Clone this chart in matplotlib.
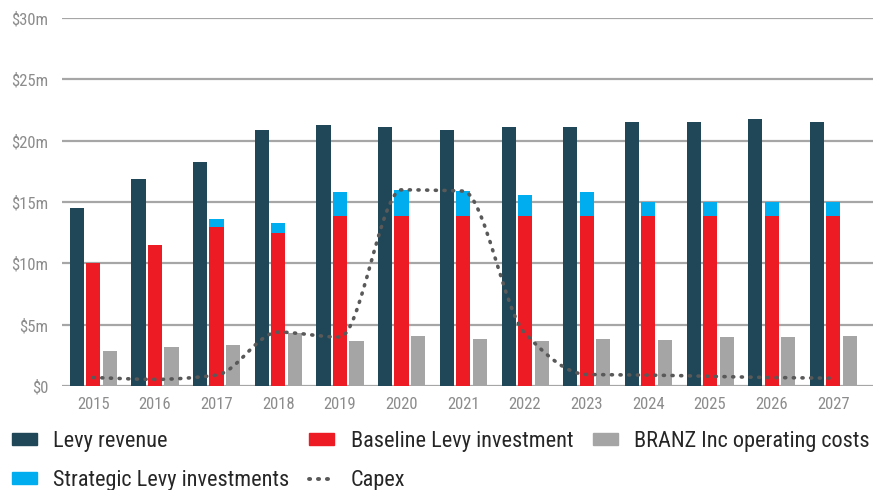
import matplotlib
matplotlib.use("Agg")
import matplotlib.pyplot as plt
import numpy as np
from matplotlib.path import Path
from matplotlib.patches import PathPatch
from matplotlib.lines import Line2D
from matplotlib.patches import Patch

plt.rcParams['font.family'] = ['Roboto Condensed', 'Roboto', 'DejaVu Sans']

years = ['2015', '2016', '2017', '2018', '2019', '2020', '2021',
         '2022', '2023', '2024', '2025', '2026', '2027']
levy_revenue = [14.5, 16.9, 18.3, 20.9, 21.3, 21.1, 20.9, 21.1, 21.1, 21.5, 21.5, 21.8, 21.5]
baseline_levy = [10.0, 11.5, 13.0, 12.5, 13.9, 13.9, 13.9, 13.9, 13.9, 13.9, 13.9, 13.9, 13.9]
strategic_levy = [0.0, 0.0, 0.6, 0.8, 1.9, 2.1, 2.0, 1.7, 1.9, 1.1, 1.1, 1.1, 1.1]
branz_costs = [2.85, 3.2, 3.35, 4.3, 3.7, 4.1, 3.85, 3.7, 3.85, 3.8, 4.0, 4.0, 4.1]
capex = [0.7, 0.55, 0.9, 4.4, 4.0, 16.0, 15.9, 4.3, 0.95, 0.9, 0.8, 0.7, 0.65]
yticks = [0, 5, 10, 15, 20, 25, 30]
ytick_labels = ['$0', '$5m', '$10m', '$15m', '$20m', '$25m', '$30m']

c_levy = '#1f4757'
c_base = '#ed1c24'
c_strat = '#00aeef'
c_branz = '#a5a5a5'
c_capex = '#595959'

fig = plt.figure(figsize=(8.77, 4.90), dpi=100)
ax = fig.add_axes([0.071, 0.212, 0.925, 0.751])

x = np.arange(len(years))
w = 0.23
ax.bar(x - 0.265, levy_revenue, w, color=c_levy, zorder=3)
ax.bar(x, baseline_levy, w, color=c_base, zorder=3)
ax.bar(x, strategic_levy, w, bottom=baseline_levy, color=c_strat, zorder=3)
ax.bar(x + 0.27, branz_costs, w, color=c_branz, zorder=3)

# smoothed capex line: bezier through the points with monotone tangents (no overshoot)
xs = x.astype(float)
ys = np.array(capex, dtype=float)
d = np.diff(ys) / np.diff(xs)
m = np.zeros_like(ys)
m[0], m[-1] = d[0], d[-1]
for i in range(1, len(ys) - 1):
    if d[i - 1] * d[i] > 0:
        m[i] = 2.0 / (1.0 / d[i - 1] + 1.0 / d[i])
verts = [(xs[0], ys[0])]
codes = [Path.MOVETO]
for i in range(len(ys) - 1):
    h = xs[i + 1] - xs[i]
    verts += [(xs[i] + h / 3, ys[i] + m[i] * h / 3),
              (xs[i + 1] - h / 3, ys[i + 1] - m[i + 1] * h / 3),
              (xs[i + 1], ys[i + 1])]
    codes += [Path.CURVE4] * 3
capex_patch = PathPatch(Path(verts, codes), fill=False, edgecolor=c_capex,
                        linewidth=2.6, linestyle=(0, (0.3, 2.1)),
                        capstyle='round', zorder=4)
ax.add_patch(capex_patch)

ax.set_xlim(-0.5, 12.65)
ax.set_ylim(0, 30)
ax.set_yticks(yticks)
ax.set_yticklabels(ytick_labels)
ax.set_xticks(x)
ax.set_xticklabels(years)
ax.grid(axis='y', color='#a6a6a6', linewidth=1.6, zorder=0)
for s in ax.spines.values():
    s.set_visible(False)
ax.tick_params(axis='both', length=0, labelsize=12, colors='#8c8c8c')
ax.tick_params(axis='x', pad=8)
ax.tick_params(axis='y', pad=10)

handles = [
    Patch(color=c_levy),
    Patch(color=c_strat),
    Patch(color=c_base),
    Line2D([], [], color=c_capex, linewidth=2.8, linestyle=(0, (0.3, 2.0)),
           dash_capstyle='round'),
    Patch(color=c_branz),
]
labels = ['Levy revenue', 'Strategic Levy investments', 'Baseline Levy investment',
          'Capex', 'BRANZ Inc operating costs']
fig.legend(handles, labels, ncol=3, loc='upper left', bbox_to_anchor=(-0.009, 0.161),
           frameon=False, fontsize=16, handlelength=1.1, handleheight=0.45,
           handletextpad=0.75, columnspacing=0.9, labelspacing=0.8,
           labelcolor='#262626')

fig.savefig('out.png', dpi=100)
